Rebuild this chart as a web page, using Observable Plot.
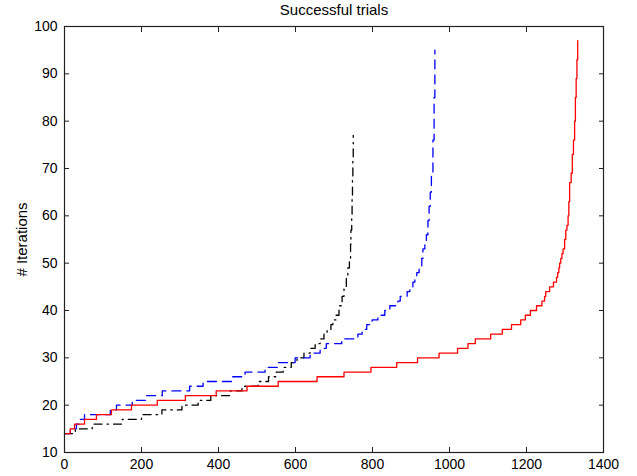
<!DOCTYPE html>
<html>
<head>
<meta charset="utf-8">
<script src="https://cdn.jsdelivr.net/npm/d3@7"></script>
<script src="https://cdn.jsdelivr.net/npm/@observablehq/plot@0.6"></script>
<style>
  html, body { margin: 0; padding: 0; background: white; }
</style>
</head>
<body>
<div id="chart"></div>
<script>
const titleText = "Successful trials";
const yLabel = "# Iterations";
const xTicks = [0, 200, 400, 600, 800, 1000, 1200, 1400];
const yTicks = [10, 20, 30, 40, 50, 60, 70, 80, 90, 100];

// sorted iteration counts: trial index where each level begins
const redStarts = [0,15,26,52,83,122,174,241,314,394,474,555,656,726,796,863,917,973,1021,1048,1067,1107,1137,1161,1185,1197,1210,1226,1240,1247,1250,1260,1270,1278,1281,1284,1286,1289,1292,1295,1299,1302,1305,1308,1310,1312,1316,1319,1322,1325,1327,1329,1331,1333];
const redLevels = [14,15,16,17,18,19,20,21,22,23,24,25,26,27,28,29,30,31,32,33,34,35,36,37,38,39,40,41,42,43,44,45,46,47,48,49,50,51,52,53,55,57,58,60,63,67,69,73,76,80,85,89,93,97];

const blueStarts = [0,15,31,41,52,119,135,176,210,254,325,360,436,469,521,555,599,638,664,680,720,762,773,785,799,814,832,845,866,872,890,897,905,910,915,921,928,931,936,940,944,947,950,953,957,960,962];
const blueLevels = [14,15,16,17,18,19,20,21,22,23,24,25,26,27,28,29,30,31,32,33,34,35,36,37,38,39,40,41,42,43,44,45,46,47,48,49,51,53,54,56,59,62,65,69,76,85,95];

const blackStarts = [0,28,72,150,200,253,305,347,380,430,461,503,530,550,568,589,604,622,638,651,664,674,682,692,697,705,713,721,726,732,736,740,743,744,746,747,748,749,750];
const blackLevels = [14,15,16,17,18,19,20,21,22,23,24,25,26,27,28,29,30,31,32,33,34,35,36,37,38,39,41,43,45,47,49,51,54,57,60,64,68,72,77];

const toSteps = (starts, levels) => starts.map((s, k) => ({i: s, v: levels[k]}));
const red = toSteps(redStarts, redLevels);
const blue = toSteps(blueStarts, blueLevels);
const black = toSteps(blackStarts, blackLevels);

const axisColor = "#222";

const chart = Plot.plot({
  width: 637,
  height: 476,
  marginLeft: 64,
  marginRight: 34,
  marginTop: 26,
  marginBottom: 24,
  style: {fontFamily: "'Liberation Sans', Arial, Helvetica, sans-serif", fontSize: "14px", background: "white", color: "black"},
  x: {domain: [0, 1400]},
  y: {domain: [10, 100]},
  marks: [
    Plot.line(black, {x: "i", y: "v", curve: "step-after", stroke: "black", strokeWidth: 1.3, strokeDasharray: "8,5,1.5,5"}),
    Plot.line(blue, {x: "i", y: "v", curve: "step-after", stroke: "blue", strokeWidth: 1.3, strokeDasharray: "9,6"}),
    Plot.line(red, {x: "i", y: "v", curve: "step-after", stroke: "red", strokeWidth: 1.3}),
    Plot.frame({stroke: axisColor, strokeWidth: 1.2}),
    Plot.axisX({anchor: "bottom", ticks: xTicks, tickSize: -5, tickPadding: 12, tickFormat: d => String(d), label: null, stroke: axisColor}),
    Plot.axisX({anchor: "top", ticks: xTicks, tickSize: -5, tickFormat: () => "", label: null, stroke: axisColor}),
    Plot.axisY({anchor: "left", ticks: yTicks, tickSize: -5, tickPadding: 12, tickFormat: d => String(d), label: null, stroke: axisColor}),
    Plot.axisY({anchor: "right", ticks: yTicks, tickSize: -5, tickFormat: () => "", label: null, stroke: axisColor}),
    Plot.text([titleText], {frameAnchor: "top", lineAnchor: "middle", dy: -16, fontSize: 15, fill: "black"}),
    Plot.text([yLabel], {frameAnchor: "left", lineAnchor: "middle", textAnchor: "middle", rotate: -90, dx: -42, fontSize: 15, fill: "black"})
  ]
});
document.getElementById("chart").appendChild(chart);
</script>
</body>
</html>
